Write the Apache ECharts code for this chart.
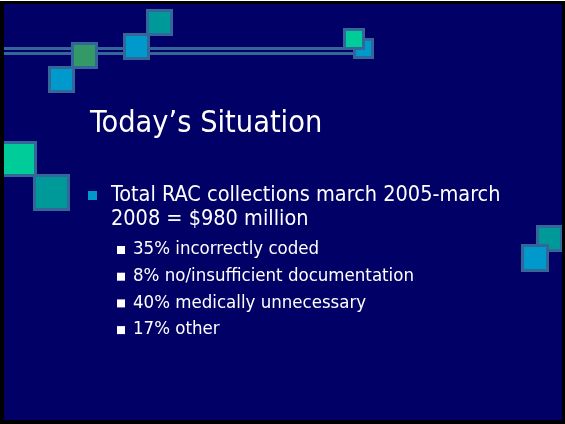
<!DOCTYPE html>
<html>
<head>
<meta charset="utf-8">
<script src="https://cdn.jsdelivr.net/npm/echarts@6/dist/echarts.min.js"></script>
<style>
  html, body { margin: 0; padding: 0; background: #000066; }
  #main { width: 565px; height: 424px; }
</style>
</head>
<body>
<div id="main"></div>
<script>
var title = "Today\u2019s Situation";
var mainPoint = ["Total RAC collections march 2005-march", "2008 = $980 million"];
var shares = ["35%", "8%", "40%", "17%"];
var causes = ["incorrectly coded", "no/insufficient documentation", "medically unnecessary", "other"];

var myChart = echarts.init(document.getElementById('main'));
var font = '"DejaVu Sans Condensed", "DejaVu Sans", sans-serif';

// decorative squares: [x, y, size, fill]
var squares = [
    [71, 42, 27, '#339966'],
    [48, 66, 27, '#0099cc'],
    [123, 33, 27, '#0099cc'],
    [146, 9, 27, '#009999'],
    [353, 38, 21, '#0099cc'],
    [343, 28, 22, '#00cc99'],
    [1, 141, 36, '#00cc99'],
    [33, 174, 37, '#009999'],
    [536, 225, 27, '#009999'],
    [521, 244, 28, '#0099cc']
];

var els = [];
els.push({ type: 'rect', shape: { x: 0, y: 47, width: 360, height: 3 }, style: { fill: '#336699' } });
els.push({ type: 'rect', shape: { x: 0, y: 52, width: 360, height: 3 }, style: { fill: '#336699' } });
squares.forEach(function (s) {
    els.push({
        type: 'rect',
        shape: { x: s[0] + 1.5, y: s[1] + 1.5, width: s[2] - 3, height: s[2] - 3 },
        style: { fill: s[3], stroke: '#336699', lineWidth: 3 }
    });
});

function text(str, x, y, size) {
    els.push({ type: 'text', x: x, y: y,
        style: { text: str, font: size + 'px ' + font, fill: '#ffffff', verticalAlign: 'bottom' } });
}
text(title, 90, 139.5, 30.4);
els.push({ type: 'rect', shape: { x: 88, y: 191, width: 9, height: 9 }, style: { fill: '#0099cc' } });
text(mainPoint[0], 111, 206, 21.5);
text(mainPoint[1], 111, 230.5, 21.5);
shares.forEach(function (p, i) {
    var base = 254 + i * 26.7;
    els.push({ type: 'rect', shape: { x: 117, y: base - 8, width: 8, height: 8 }, style: { fill: '#ffffff' } });
    text(p + ' ' + causes[i], 133, base + 5, 18.5);
});

// frame
els.push({ type: 'rect', shape: { x: 0, y: 0, width: 4, height: 424 }, style: { fill: '#000' } });
els.push({ type: 'rect', shape: { x: 562, y: 0, width: 3, height: 424 }, style: { fill: '#000' } });
els.push({ type: 'rect', shape: { x: 0, y: 1, width: 565, height: 3 }, style: { fill: '#000' } });
els.push({ type: 'rect', shape: { x: 0, y: 420, width: 565, height: 4 }, style: { fill: '#000' } });
els.push({ type: 'rect', shape: { x: 0, y: 0, width: 565, height: 1 }, style: { fill: '#ffffff' } });

option = {
    backgroundColor: '#000066',
    graphic: { elements: els }
};
myChart.setOption(option);
</script>
</body>
</html>
